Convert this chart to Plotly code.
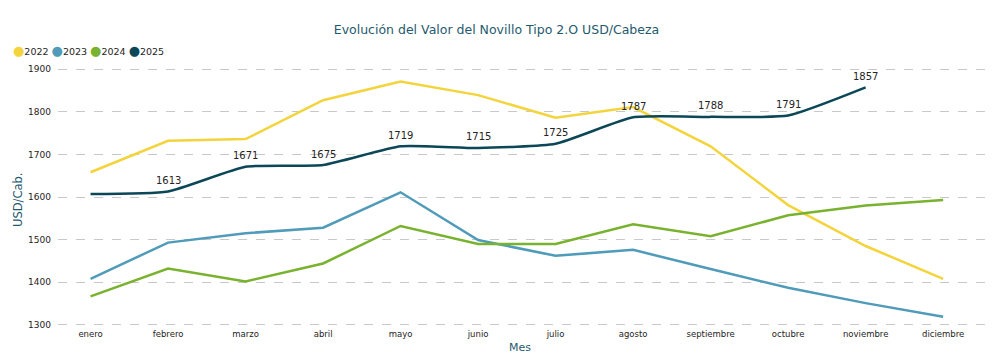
import plotly.graph_objects as go

meses = ["enero", "febrero", "marzo", "abril", "mayo", "junio", "julio",
         "agosto", "septiembre", "octubre", "noviembre", "diciembre"]
v2022 = [1658, 1732, 1736, 1827, 1871, 1839, 1786, 1811, 1719, 1581, 1485, 1408]
v2023 = [1408, 1493, 1515, 1528, 1611, 1499, 1462, 1476, 1431, 1387, 1351, 1319]
v2024 = [1367, 1432, 1402, 1444, 1532, 1490, 1490, 1536, 1508, 1557, 1580, 1593]
v2025 = [1607, 1613, 1671, 1675, 1719, 1715, 1725, 1787, 1788, 1791, 1857, None]
etiquetas_2025 = ["", "1613", "1671", "1675", "1719", "1715", "1725",
                  "1787", "1788", "1791", "1857", ""]

colores = {"2022": "#F3D43C", "2023": "#4F9BB9", "2024": "#79B22F", "2025": "#0B4757"}
series = [("2022", v2022), ("2023", v2023), ("2024", v2024)]

W, H = 993, 355
ML, MR, MT, MB = 58, 8, 67, 28
pw, ph = W - ML - MR, H - MT - MB

fig = go.Figure()
for nombre, vals in series:
    fig.add_trace(go.Scatter(x=meses, y=vals, mode="lines", name=nombre,
                             line=dict(color=colores[nombre], width=2.5),
                             showlegend=False))
fig.add_trace(go.Scatter(x=meses, y=v2025, mode="lines", name="2025",
                         line=dict(color=colores["2025"], width=2.5, shape="spline", smoothing=0.5),
                         showlegend=False))

anns = []
for mes, val, lab in zip(meses, v2025, etiquetas_2025):
    if lab:
        anns.append(dict(x=mes, y=val, xref="x", yref="y", text=lab, showarrow=False,
                         yshift=11, font=dict(family="DejaVu Sans", size=10, color="#252423")))

leyenda = " ".join(
    f"<span style='color:{colores[n]}; font-size:13px'>●</span>{n}" for n in ["2022", "2023", "2024", "2025"])
anns.append(dict(text=leyenda, x=(11 - ML) / pw, y=(H - MB - 50) / ph, xref="paper", yref="paper",
                 showarrow=False, xanchor="left", yanchor="middle",
                 font=dict(family="DejaVu Sans", size=9.5, color="#252423")))
anns.append(dict(text="Mes", x=(520 - ML) / pw, y=(H - MB - 347) / ph, xref="paper", yref="paper",
                 showarrow=False, xanchor="center", yanchor="middle",
                 font=dict(family="DejaVu Sans", size=11, color="#1F5A6E")))
anns.append(dict(text="USD/Cab.", x=(18 - ML) / pw, y=(H - MB - 200) / ph, xref="paper", yref="paper",
                 showarrow=False, xanchor="center", yanchor="middle", textangle=-90,
                 font=dict(family="DejaVu Sans", size=11.5, color="#1F5A6E")))

fig.update_layout(
    width=W, height=H,
    margin=dict(l=ML, r=MR, t=MT, b=MB, autoexpand=False),
    paper_bgcolor="white", plot_bgcolor="white",
    font=dict(family="DejaVu Sans", size=9, color="#252423"),
    title=dict(text="Evolución del Valor del Novillo Tipo 2.O USD/Cabeza",
               x=0.5, xanchor="center", y=1 - 29.5 / H, yanchor="middle",
               font=dict(family="DejaVu Sans", size=12.5, color="#1F5A6E")),
    showlegend=False,
    annotations=anns,
)

fig.update_xaxes(type="category", range=[-0.42, 11.54], showgrid=False, showline=False,
                 ticks="", tickfont=dict(size=8.5), ticklabelstandoff=0)
fig.update_yaxes(range=[1295, 1905], tickvals=[1300, 1400, 1500, 1600, 1700, 1800, 1900],
                 showgrid=True, gridcolor="#C8C8C8",
                 griddash="dash", gridwidth=1, zeroline=False, showline=False,
                 tickfont=dict(size=9), ticks="", ticklabelstandoff=6)

fig.write_html("out.html", config={"displayModeBar": False},
               post_script="document.body.style.margin='0';document.body.style.overflow='hidden';")
